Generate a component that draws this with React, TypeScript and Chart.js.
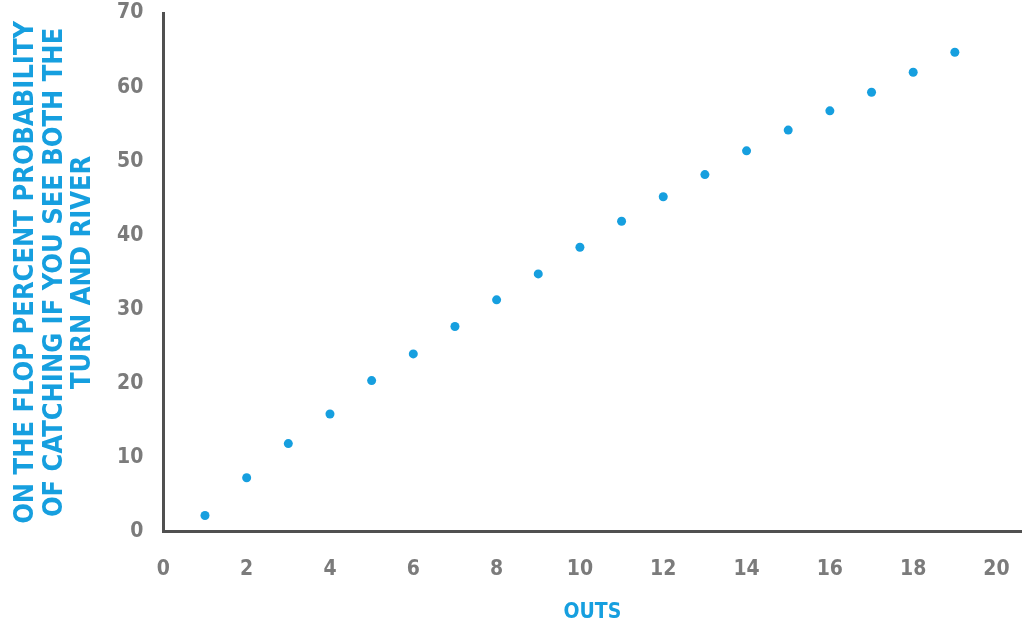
import React, { useEffect, useRef } from "react";
import { Chart, registerables } from "chart.js";

Chart.register(...registerables);

const outs = [1, 2, 3, 4, 5, 6, 7, 8, 9, 10, 11, 12, 13, 14, 15, 16, 17, 18, 19];
const probability = [2.2, 7.3, 11.9, 15.9, 20.4, 24.0, 27.7, 31.3, 34.8, 38.4, 41.9, 45.2, 48.2, 51.4, 54.2, 56.8, 59.3, 62.0, 64.7];
const xTicks = [0, 2, 4, 6, 8, 10, 12, 14, 16, 18, 20];
const yTicks = [0, 10, 20, 30, 40, 50, 60, 70];
const yTitle = ["ON THE FLOP PERCENT PROBABILITY", "OF CATCHING IF YOU SEE BOTH THE", "TURN AND RIVER"];
const xTitle = "OUTS";

const BLUE = "#169fdf";
const GREY = "#7b7b7b";
const AXIS = "#505050";
const FONT = "'DejaVu Sans Condensed', 'DejaVu Sans', sans-serif";

export default function App() {
  const ref = useRef<HTMLCanvasElement | null>(null);
  useEffect(() => {
    document.body.style.margin = "0";
    const ctx = ref.current!;
    const chart = new Chart(ctx, {
      type: "scatter",
      data: {
        datasets: [
          {
            data: outs.map((x, i) => ({ x, y: probability[i] })),
            backgroundColor: BLUE,
            borderWidth: 0,
            pointRadius: 4.5,
          },
        ],
      },
      options: {
        animation: false,
        responsive: false,
        layout: { padding: { top: 13, right: -4, left: 12, bottom: 0 } },
        plugins: { legend: { display: false }, tooltip: { enabled: false } },
        scales: {
          x: {
            type: "linear",
            min: 0,
            max: 20.6,
            afterBuildTicks: (axis: any) => {
              axis.ticks = xTicks.map((v) => ({ value: v }));
            },
            afterFit: (axis: any) => {
              axis.paddingRight = 0;
            },
            grid: { display: false },
            border: { display: true, color: AXIS, width: 3 },
            ticks: {
              color: GREY,
              padding: 17,
              font: { family: FONT, size: 21, weight: "bold" },
            },
            title: {
              display: true,
              text: xTitle,
              color: BLUE,
              padding: { top: 3, bottom: 3 },
              font: { family: FONT, size: 21, weight: "bold", lineHeight: 1.0 },
            },
          },
          y: {
            type: "linear",
            min: 0,
            max: 70,
            afterBuildTicks: (axis: any) => {
              axis.ticks = yTicks.map((v) => ({ value: v }));
            },
            afterFit: (axis: any) => {
              axis.paddingTop = 0;
            },
            grid: { display: false },
            border: { display: true, color: AXIS, width: 3 },
            ticks: {
              color: GREY,
              padding: 12,
              labelOffset: 0,
              font: { family: FONT, size: 21, weight: "bold" },
            },
            title: {
              display: true,
              text: yTitle,
              color: BLUE,
              padding: { top: 0, bottom: 8 },
              font: { family: FONT, size: 27, weight: "bold", lineHeight: 1.05 },
            },
          },
        },
      },
    });
    return () => chart.destroy();
  }, []);
  return (
    <div style={{ position: "absolute", left: 0, top: 0, width: 1026, height: 626, background: "#fff" }}>
      <canvas ref={ref} width={1026} height={626} style={{ width: 1026, height: 626 }} />
    </div>
  );
}
